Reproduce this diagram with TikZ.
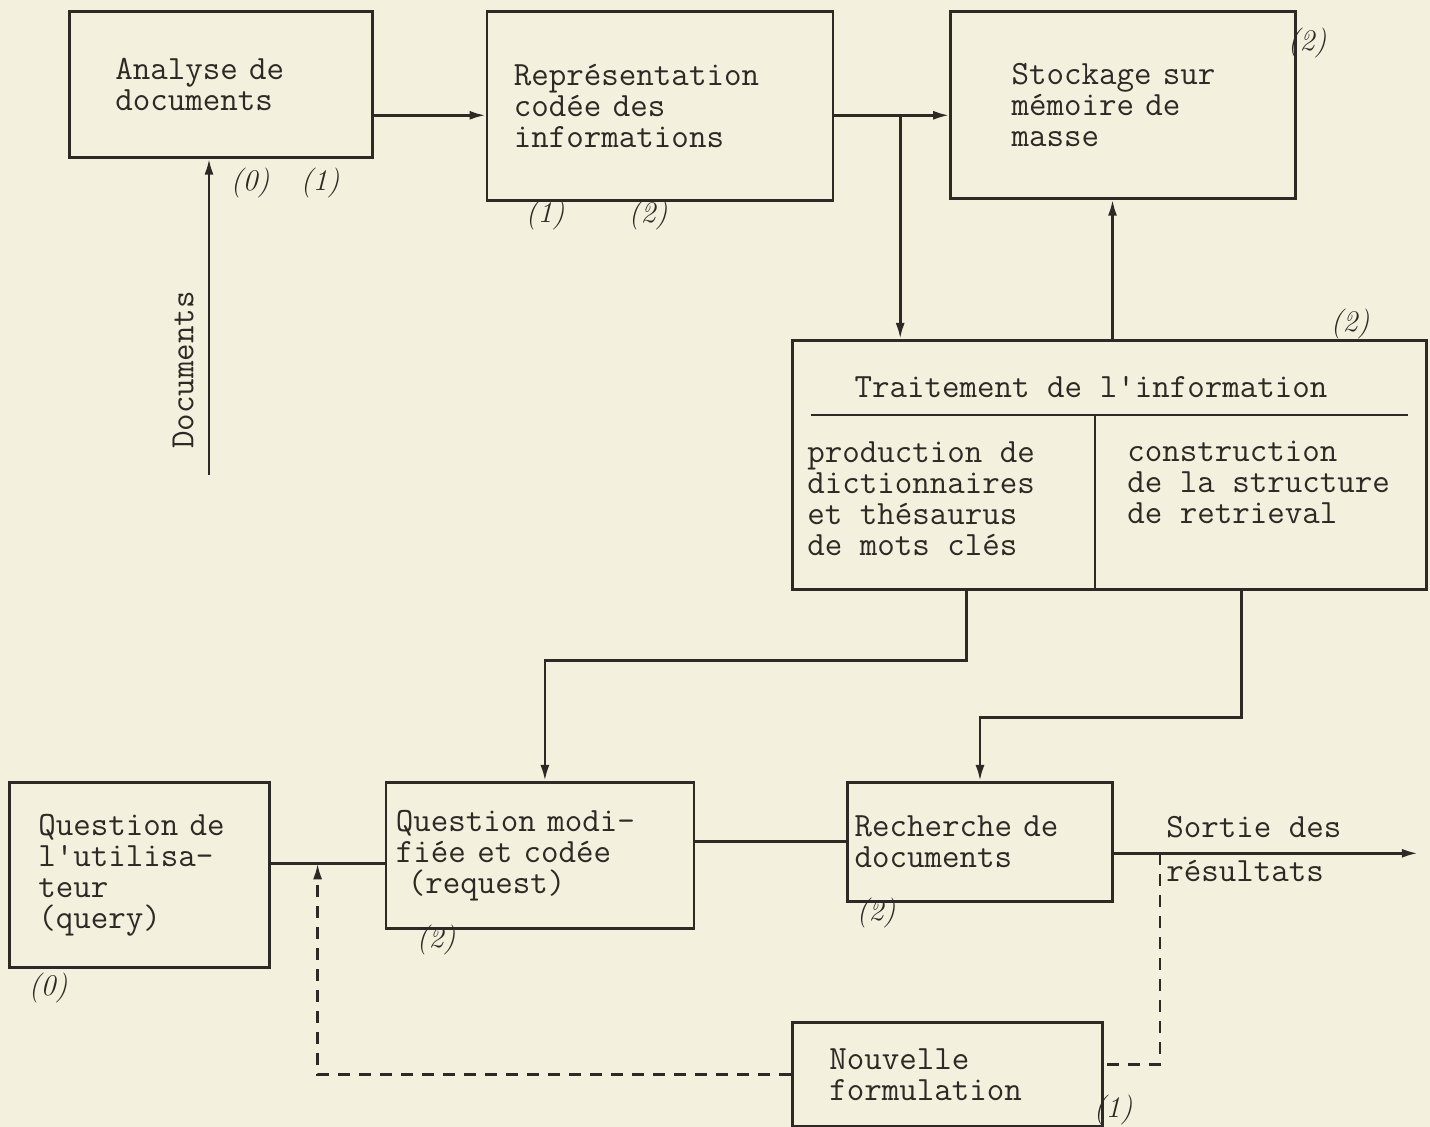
\documentclass[tikz,border=0pt]{standalone}
\usepackage{tikz}
\usetikzlibrary{positioning,arrows.meta}
\definecolor{paper}{RGB}{244,240,222}
\definecolor{ink}{RGB}{45,42,38}
\newcommand{\tw}{\fontsize{17}{15.5}\selectfont\ttfamily}
\newcommand{\hw}{\fontsize{15}{15}\selectfont\itshape}

\begin{document}
\begin{tikzpicture}[
    x=0.5pt, y=-0.5pt, color=ink, line width=1.3pt,
    box/.style = {draw, align=left, inner ysep=0pt, font=\tw},
    txt/.style = {align=left, inner sep=0pt, font=\tw},
    hand/.style = {inner sep=0pt, font=\hw},
    fback/.style = {dashed, dash pattern=on 6pt off 4.5pt},
    > = {Latex[length=8pt,width=4.5pt]}
]
\useasboundingbox (0,0) rectangle (1430,1127);
\fill[paper] (0,0) rectangle (1430,1127);

% top row
\node (ana) [box, text width=105.5pt, inner xsep=23pt, minimum height=73pt, anchor=north west] at (68,10) {Analyse de\\documents};
\node (rep) [box, text width=146pt, inner xsep=13.5pt, minimum height=94.5pt, right=56pt of ana.north east, anchor=north west] {Représentation\\codée des\\informations};
\node (sto) [box, text width=111.5pt, inner xsep=30.5pt, minimum height=93.5pt, right=57.5pt of rep.north east, anchor=north west] {Stockage sur\\mémoire de\\masse};
\node (doclbl) [txt, rotate=90] at (183,370) {Documents};

% traitement
\node (tra) [box, minimum width=317pt, minimum height=124.5pt, anchor=north west] at (791,339) {};
\node (tratitle) [txt, anchor=base] at (1091,398) {Traitement de l'information};
\draw ([xshift=10pt,yshift=-38pt]tra.north west) -- ([xshift=-10pt,yshift=-38pt]tra.north east);
\draw ([xshift=152pt,yshift=-38pt]tra.north west) -- ([xshift=152pt]tra.south west);
\node (traleft) [txt, anchor=north west] at (806,440) {production de\\dictionnaires\\et thésaurus\\de mots clés};
\node (traright) [txt, anchor=north west] at (1126,440) {construction\\de la structure\\de retrieval};

% bottom row
\node (qut) [box, text width=101pt, inner xsep=14.5pt, minimum height=92.5pt, anchor=north west] at (8,781) {Question de\\l'utilisa-\\teur\\(query)};
\node (qmo) [box, text width=144pt, inner xsep=5pt, minimum height=73pt, right=57pt of qut.north east, anchor=north west] {Question modi-\\fiée et codée\\\hspace{6pt}(request)};
\node (rec) [box, text width=125.5pt, inner xsep=3.5pt, minimum height=59.5pt, right=75.5pt of qmo.north east, anchor=north west] {Recherche de\\documents};
\node (nou) [box, text width=118pt, inner xsep=18.5pt, minimum height=52pt, anchor=north west] at (791,1021) {Nouvelle\\formulation};
\node (outa) [txt, anchor=base west] at (1165,838) {Sortie des};
\node (outb) [txt, anchor=base west] at (1165,882) {résultats};

% handwritten marks
\node (nA0) [hand] at (250,183) {(0)};
\node (nA1) [hand] at (320,183) {(1)};
\node (nR1) [hand] at (545,215) {(1)};
\node (nR2) [hand] at (648,215) {(2)};
\node (nS2) [hand] at (1307,43) {(2)};
\node (nT2) [hand] at (1350,324) {(2)};
\node (nQ0) [hand] at (48,988) {(0)};
\node (nM2) [hand] at (436,940) {(2)};
\node (nD2) [hand] at (876,913) {(2)};
\node (nN1) [hand] at (1113,1110) {(1)};

% connectors
\coordinate (docin) at (209,475);
\draw[->] (docin) -- (docin |- ana.south);
\coordinate (anaout) at ([yshift=-15.5pt]ana.east);
\draw[->] (anaout) -- (anaout -| rep.west);
\coordinate (repout) at ([yshift=-4.75pt]rep.east);
\draw[->] (repout) -- (repout -| sto.west);
\coordinate (fork) at ([xshift=33pt]repout);
\draw[->] (fork) -- (fork |- tra.north);
\coordinate (traup) at ([xshift=-5.25pt]sto.south);
\draw[->] (traup |- tra.north) -- (traup);
\draw[->] ([xshift=-71.5pt]tra.south) -- ++(0,-35pt) -| ([xshift=2.5pt]qmo.north);
\draw[->] ([xshift=66pt]tra.south) -- ++(0,-63.5pt) -| (rec.north);

\coordinate (qutout) at ([yshift=5.75pt]qut.east);
\draw (qutout) -- (qutout -| qmo.west);
\coordinate (qjoin) at ([xshift=23.5pt]qutout);
\draw[->, fback] (nou.west) -| (qjoin);
\draw (qmo.east |- rec.west) -- (rec.west);
\coordinate (recout) at ([yshift=-5.75pt]rec.east);
\coordinate (out) at ([xshift=152pt]recout);
\draw[->] (recout) -- (out);
\coordinate (fb) at ([xshift=23pt]recout);
\draw[fback] (fb) |- ([yshift=5pt]nou.east);
\end{tikzpicture}
\end{document}
